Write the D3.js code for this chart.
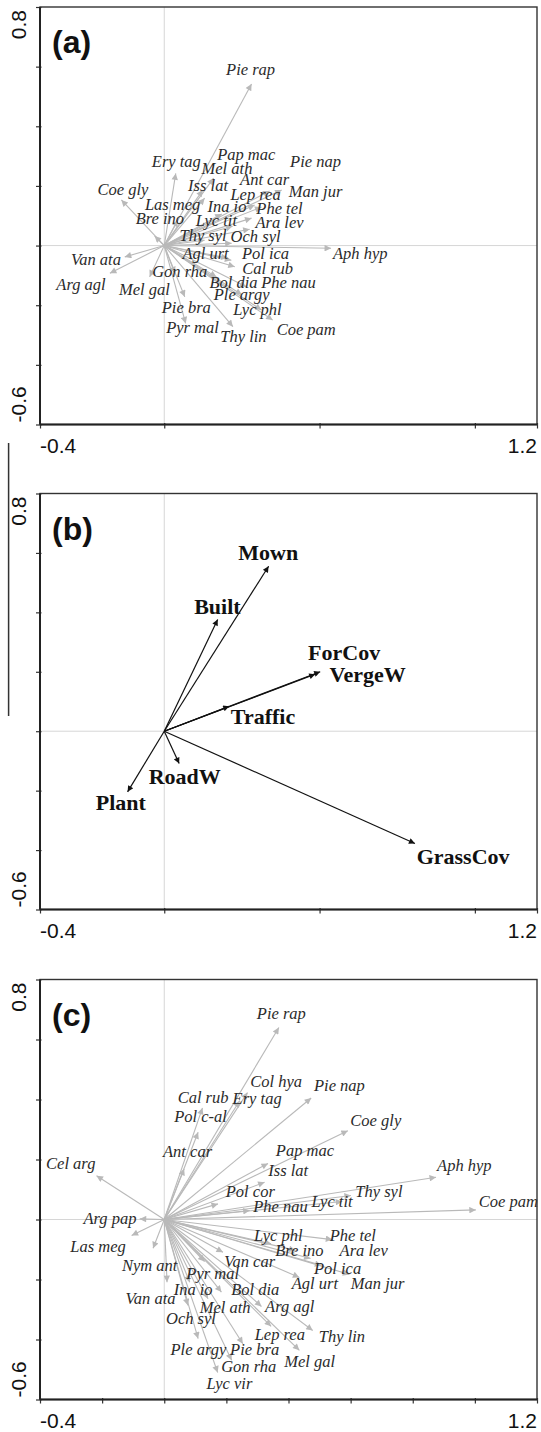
<!DOCTYPE html>
<html><head><meta charset="utf-8">
<script src="https://cdn.jsdelivr.net/npm/d3@7"></script>
<style>body{margin:0;background:#fff}svg{display:block}</style>
</head><body>
<svg id="chart" width="541" height="1432"></svg>
<script>
// ---------- Panel (a): species arrows ----------
const namesA = ["Pie rap","Ery tag","Pap mac","Pie nap","Mel ath","Coe gly","Iss lat","Ant car","Lep rea","Man jur","Las meg","Ina io","Phe tel","Bre ino","Lyc tit","Ara lev","Thy syl","Och syl","Van ata","Agl urt","Pol ica","Aph hyp","Cal rub","Gon rha","Bol dia","Phe nau","Arg agl","Mel gal","Ple argy","Pie bra","Lyc phl","Pyr mal","Thy lin","Coe pam"];
const axis1A = [0.281,0.037,0.159,0.378,0.124,-0.138,0.130,0.339,0.291,0.313,0.043,0.185,0.281,-0.031,0.220,0.275,0.130,0.217,-0.127,0.204,0.216,0.537,0.227,0.034,0.168,0.264,-0.175,-0.047,0.250,0.066,0.313,0.069,0.221,0.349];
const axis2A = [0.542,0.242,0.226,0.186,0.186,0.153,0.159,0.183,0.136,0.129,0.086,0.106,0.092,0.032,0.065,0.055,0.018,0.008,-0.038,-0.042,-0.049,-0.009,-0.071,-0.093,-0.105,-0.138,-0.093,-0.105,-0.165,-0.172,-0.216,-0.261,-0.272,-0.250];
const labXA = [0.278,0.039,0.264,0.487,0.202,-0.133,0.141,0.323,0.294,0.487,0.027,0.202,0.371,-0.014,0.168,0.371,0.125,0.294,-0.220,0.133,0.326,0.631,0.333,0.050,0.223,0.400,-0.268,-0.064,0.249,0.071,0.300,0.091,0.255,0.457];
const labYA = [0.572,0.264,0.287,0.264,0.240,0.169,0.184,0.203,0.153,0.162,0.119,0.113,0.106,0.072,0.065,0.058,0.016,0.013,-0.065,-0.046,-0.046,-0.046,-0.096,-0.105,-0.142,-0.142,-0.149,-0.166,-0.183,-0.227,-0.233,-0.294,-0.323,-0.300];

// ---------- Panel (b): environmental variables ----------
const namesB = ["Mown","Built","ForCov","VergeW","Traffic","RoadW","Plant","GrassCov"];
const axis1B = [0.336,0.172,0.502,0.486,0.209,0.048,-0.118,0.807];
const axis2B = [0.555,0.376,0.200,0.192,0.084,-0.109,-0.204,-0.378];
const labXB = [0.335,0.171,0.579,0.655,0.318,0.066,-0.140,0.962];
const labYB = [0.576,0.396,0.239,0.166,0.024,-0.176,-0.266,-0.448];

// ---------- Panel (c): species arrows ----------
const namesC = ["Pie rap","Col hya","Ery tag","Pie nap","Cal rub","Pol c-al","Ant car","Coe gly","Pap mac","Iss lat","Cel arg","Aph hyp","Pol cor","Thy syl","Lyc tit","Phe nau","Coe pam","Arg pap","Las meg","Nym ant","Van ata","Lyc phl","Phe tel","Bre ino","Ara lev","Pol ica","Man jur","Agl urt","Van car","Pyr mal","Ina io","Bol dia","Mel ath","Arg agl","Lep rea","Thy lin","Mel gal","Pie bra","Ple argy","Och syl","Gon rha","Lyc vir"];
const axis1C = [0.369,0.268,0.243,0.473,0.123,0.109,0.064,0.591,0.334,0.323,-0.218,0.875,0.173,0.601,0.573,0.275,1.003,-0.079,-0.105,-0.036,0.009,0.344,0.541,0.423,0.471,0.506,0.596,0.435,0.189,0.130,0.082,0.184,0.141,0.313,0.344,0.478,0.435,0.253,0.109,0.076,0.217,0.172];
const axis2C = [0.640,0.423,0.396,0.405,0.372,0.291,0.169,0.296,0.187,0.124,0.146,0.141,0.052,0.080,0.060,0.030,0.032,0.002,-0.053,-0.096,-0.209,-0.081,-0.067,-0.103,-0.130,-0.153,-0.183,-0.193,-0.109,-0.140,-0.209,-0.242,-0.264,-0.290,-0.356,-0.370,-0.436,-0.414,-0.397,-0.286,-0.469,-0.510];
const labXC = [0.377,0.360,0.299,0.564,0.125,0.117,0.075,0.681,0.453,0.399,-0.301,0.966,0.277,0.691,0.540,0.374,1.108,-0.175,-0.213,-0.047,-0.044,0.367,0.607,0.435,0.642,0.558,0.687,0.485,0.275,0.156,0.093,0.293,0.196,0.404,0.372,0.572,0.468,0.291,0.110,0.086,0.272,0.210];
const labYC = [0.668,0.443,0.385,0.429,0.390,0.324,0.210,0.313,0.213,0.146,0.169,0.161,0.074,0.074,0.041,0.024,0.041,-0.014,-0.109,-0.170,-0.283,-0.070,-0.070,-0.120,-0.120,-0.181,-0.231,-0.231,-0.159,-0.197,-0.250,-0.250,-0.312,-0.309,-0.401,-0.409,-0.492,-0.453,-0.453,-0.347,-0.508,-0.566];

// ---------- Axes ----------
const xDomain = [-0.4, 1.2];
const yDomain = [-0.6, 0.8];
const xTicksAB = [-0.4, 0, 0.5, 1.0, 1.2];
const xTicksC = [-0.4, -0.2, 0, 0.2, 0.4, 0.6, 0.8, 1.0, 1.2];
const yTicks = [-0.6, -0.4, -0.2, 0, 0.2, 0.4, 0.6, 0.8];
const xEndLabels = ["-0.4", "1.2"];
const yEndLabels = ["-0.6", "0.8"];
const panelLetters = ["(a)", "(b)", "(c)"];

const svg = d3.select("#chart");
const defs = svg.append("defs");
function marker(id, color, w, h) {
  defs.append("marker").attr("id", id)
    .attr("viewBox", "0 0 10 10").attr("refX", 10).attr("refY", 5)
    .attr("markerWidth", w).attr("markerHeight", h)
    .attr("markerUnits", "userSpaceOnUse").attr("orient", "auto")
    .append("path").attr("d", "M0,0 L10,5 L0,10 Z").attr("fill", color);
}
const grey = "#b9b9b9";
marker("hGrey", grey, 9, 6.5);
marker("hBlack", "#111", 9, 6);

const left = 40, right = 537;
const panels = [
  {top: 7, bottom: 424.5, names: namesA, ax1: axis1A, ax2: axis2A, lx: labXA, ly: labYA, xt: xTicksAB, kind: "sp"},
  {top: 493.5, bottom: 909.5, names: namesB, ax1: axis1B, ax2: axis2B, lx: labXB, ly: labYB, xt: xTicksAB, kind: "env"},
  {top: 979.5, bottom: 1399.5, names: namesC, ax1: axis1C, ax2: axis2C, lx: labXC, ly: labYC, xt: xTicksC, kind: "sp"}
];

// stray rule visible in the original figure
svg.append("line").attr("x1", 8.6).attr("x2", 8.6).attr("y1", 443).attr("y2", 716)
  .attr("stroke", "#333").attr("stroke-width", 1.5);

panels.forEach((p, i) => {
  const x = d3.scaleLinear().domain(xDomain).range([left, right]);
  const y = d3.scaleLinear().domain(yDomain).range([p.bottom, p.top]);
  const g = svg.append("g");

  // zero lines
  g.append("line").attr("x1", x(0)).attr("x2", x(0)).attr("y1", p.top).attr("y2", p.bottom)
    .attr("stroke", "#d6d6d6").attr("stroke-width", 1);
  g.append("line").attr("x1", left).attr("x2", right).attr("y1", y(0)).attr("y2", y(0))
    .attr("stroke", "#d6d6d6").attr("stroke-width", 1);

  // axes (ticks only), frame drawn separately
  const ya = g.append("g").attr("transform", `translate(${left},0)`)
    .call(d3.axisLeft(y).tickValues(yTicks).tickSize(4).tickSizeOuter(0).tickFormat(""));
  ya.select(".domain").remove();
  ya.selectAll(".tick line").attr("x2", -4).attr("x1", 1.5).attr("stroke", "#333").attr("stroke-width", 1.2);
  const xa = g.append("g").attr("transform", `translate(0,${p.bottom})`)
    .call(d3.axisBottom(x).tickValues(p.xt).tickSize(4).tickSizeOuter(0).tickFormat(""));
  xa.select(".domain").remove();
  xa.selectAll(".tick line").attr("y1", -1.5).attr("y2", 4).attr("stroke", "#333").attr("stroke-width", 1.2);

  // frame
  g.append("rect").attr("x", left).attr("y", p.top).attr("width", right - left).attr("height", p.bottom - p.top)
    .attr("fill", "none").attr("stroke", "#333").attr("stroke-width", 1.4);
  g.append("line").attr("x1", left).attr("x2", left).attr("y1", p.top).attr("y2", p.bottom)
    .attr("stroke", "#222").attr("stroke-width", 2);
  g.append("line").attr("x1", left).attr("x2", right).attr("y1", p.bottom).attr("y2", p.bottom)
    .attr("stroke", "#222").attr("stroke-width", 2);

  // end labels
  const tf = "'Liberation Sans', Arial, sans-serif";
  g.append("text").attr("x", x(xDomain[0])).attr("y", p.bottom + 28.5).attr("text-anchor", "start")
    .attr("font-family", tf).attr("font-size", 21).attr("fill", "#111").text(xEndLabels[0]);
  g.append("text").attr("x", x(xDomain[1])).attr("y", p.bottom + 28.5).attr("text-anchor", "end")
    .attr("font-family", tf).attr("font-size", 21).attr("fill", "#111").text(xEndLabels[1]);
  g.append("text").attr("transform", `translate(25.5,${y(yDomain[0]) - 2}) rotate(-90)`).attr("text-anchor", "start")
    .attr("font-family", tf).attr("font-size", 21).attr("fill", "#111").text(yEndLabels[0]);
  g.append("text").attr("transform", `translate(25.5,${y(yDomain[1]) + 3}) rotate(-90)`).attr("text-anchor", "end")
    .attr("font-family", tf).attr("font-size", 21).attr("fill", "#111").text(yEndLabels[1]);

  // panel letter
  g.append("text").attr("x", left + 12).attr("y", p.top + 46)
    .attr("font-family", tf).attr("font-weight", "bold").attr("font-size", 32).attr("fill", "#111")
    .text(panelLetters[i]);

  const env = p.kind === "env";
  const idx = d3.range(p.names.length);
  // arrows
  g.append("g").selectAll("line").data(idx).join("line")
    .attr("x1", x(0)).attr("y1", y(0))
    .attr("x2", d => x(p.ax1[d])).attr("y2", d => y(p.ax2[d]))
    .attr("stroke", env ? "#111" : grey).attr("stroke-width", env ? 1.2 : 1.1)
    .attr("marker-end", env ? "url(#hBlack)" : "url(#hGrey)");
  // labels
  g.append("g").selectAll("text").data(idx).join("text")
    .attr("x", d => x(p.lx[d])).attr("y", d => y(p.ly[d]))
    .attr("text-anchor", "middle")
    .attr("font-family", "'Liberation Serif', 'Times New Roman', serif")
    .attr("font-style", env ? "normal" : "italic")
    .attr("font-weight", env ? "bold" : "normal")
    .attr("font-size", env ? 22 : 16.5)
    .attr("fill", env ? "#111" : "#2b2b2b")
    .text(d => p.names[d]);
});
</script>
</body></html>
